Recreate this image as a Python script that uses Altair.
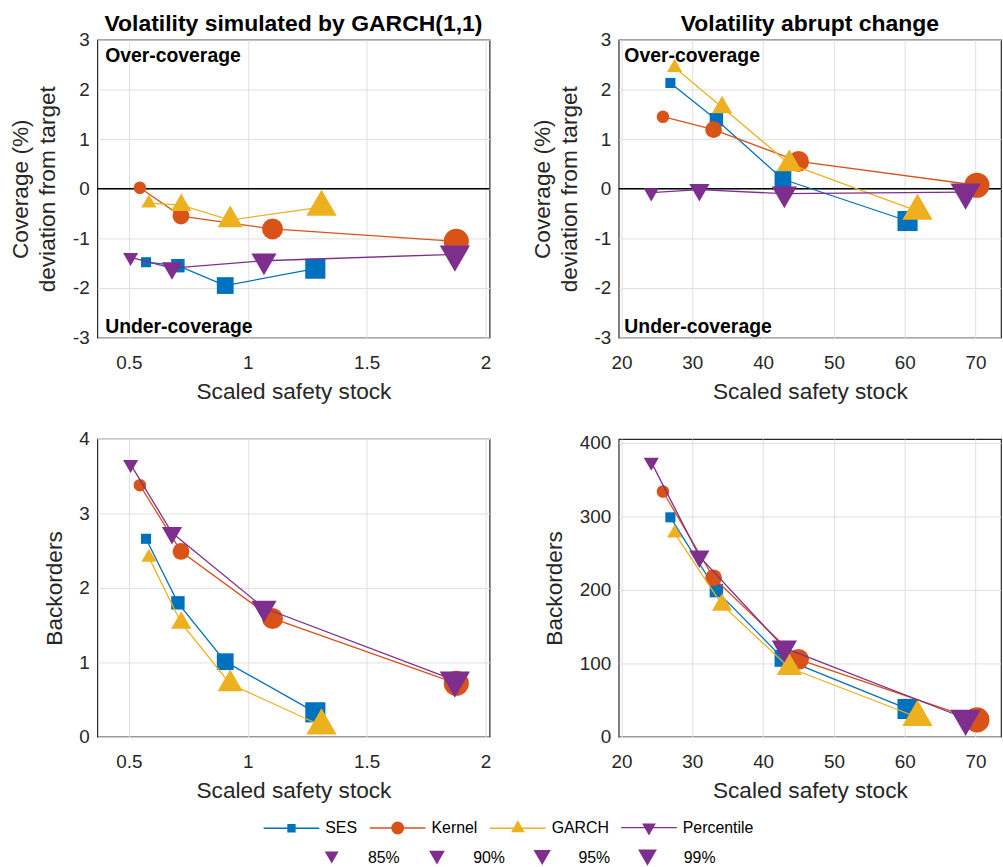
import altair as alt
import pandas as pd

METHODS = ["SES", "Kernel", "GARCH", "Percentile"]
LEVELS = ["85%", "90%", "95%", "99%"]

# ---- Volatility simulated by GARCH(1,1) ----
garch_stock_ses = [0.572, 0.706, 0.905, 1.284]
garch_stock_kernel = [0.546, 0.719, 1.104, 1.877]
garch_stock_garch = [0.584, 0.720, 0.926, 1.310]
garch_stock_pct = [0.507, 0.681, 1.068, 1.871]

garch_cov_ses = [-1.48, -1.55, -1.95, -1.61]
garch_cov_kernel = [0.02, -0.55, -0.81, -1.06]
garch_cov_garch = [-0.29, -0.33, -0.63, -0.37]
garch_cov_pct = [-1.38, -1.60, -1.45, -1.32]

garch_bo_ses = [2.66, 1.80, 1.01, 0.33]
garch_bo_kernel = [3.38, 2.49, 1.59, 0.72]
garch_bo_garch = [2.41, 1.53, 0.71, 0.15]
garch_bo_pct = [3.66, 2.74, 1.73, 0.76]

# ---- Volatility abrupt change ----
abrupt_stock_ses = [26.9, 33.4, 42.8, 60.4]
abrupt_stock_kernel = [25.85, 33.0, 45.0, 70.2]
abrupt_stock_garch = [27.5, 34.2, 43.7, 61.8]
abrupt_stock_pct = [24.2, 31.0, 43.0, 68.6]

abrupt_cov_ses = [2.13, 1.39, 0.19, -0.65]
abrupt_cov_kernel = [1.45, 1.19, 0.55, 0.07]
abrupt_cov_garch = [2.44, 1.64, 0.50, -0.45]
abrupt_cov_pct = [-0.08, -0.02, -0.10, -0.07]

abrupt_bo_ses = [298.5, 198.8, 106.7, 38.0]
abrupt_bo_kernel = [333.6, 216.3, 105.4, 23.2]
abrupt_bo_garch = [277.0, 179.5, 94.0, 26.7]
abrupt_bo_pct = [373.6, 245.5, 121.0, 25.0]

COLORS = {"SES": "#0072BD", "Kernel": "#D95319", "GARCH": "#EDB120", "Percentile": "#7E2F8E"}
# triangles centred on their centroid
TRI_UP = "M0,-1.1547L-1,0.5774L1,0.5774Z"
TRI_DOWN = "M0,1.1547L-1,-0.5774L1,-0.5774Z"
SHAPES = {"SES": "square", "Kernel": "circle", "GARCH": TRI_UP, "Percentile": TRI_DOWN}
MARKER_SCALE = {"SES": 1.69, "Kernel": 2.11, "GARCH": 2.54, "Percentile": 2.54}
MARKER_SIZE = [6, 8, 10, 12]
LEGEND_AREA = [196, 361, 515, 713]

# legend symbols: a short line with the marker in its middle (pixel units)
LEGEND_PATHS = [
    "M-28,0H28M-3.5,-3.5H3.5V3.5H-3.5Z",
    "M-28,0H28M5.8,0A5.8,5.8,0,1,1,-5.8,0A5.8,5.8,0,1,1,5.8,0Z",
    "M-28,0H28M0,-6.6L-5.7,3.3L5.7,3.3Z",
    "M-28,0H28M0,6.6L-5.7,-3.3L5.7,-3.3Z",
]

FONT = "Liberation Sans"


def series_frame(stock, values):
    rows = []
    for m, xs, ys in zip(METHODS, stock, values):
        for i, (xv, yv) in enumerate(zip(xs, ys)):
            rows.append({"method": m, "level": LEVELS[i], "rank": i,
                         "stock": xv, "value": yv})
    return pd.DataFrame(rows)


def panel(df, xdom, xticks, ydom, yticks, ytitle, width, height,
          title=None, notes=None, extra=()):
    x = alt.X("stock:Q", scale=alt.Scale(domain=xdom, nice=False, zero=False),
              axis=alt.Axis(values=xticks, title="Scaled safety stock",
                            labelExpr="toString(datum.value)"))
    y = alt.Y("value:Q", scale=alt.Scale(domain=ydom, nice=False, zero=False),
              axis=alt.Axis(values=yticks, title=ytitle,
                            labelExpr="toString(datum.value)"))
    layers = []
    if notes is not None:
        zero = pd.DataFrame({"value": [0.0]})
        layers.append(alt.Chart(zero).mark_rule(color="black", strokeWidth=1.5).encode(y=y))
    for m in METHODS:
        sub = alt.Chart(df).transform_filter(alt.datum.method == m)
        layers.append(sub.mark_line(color=COLORS[m], strokeWidth=1.3).encode(
            x=x, y=y, order=alt.Order("rank:Q")))
        # marker grows with the service level
        for i, lev in enumerate(LEVELS):
            area = (MARKER_SCALE[m] * MARKER_SIZE[i]) ** 2
            layers.append(sub.transform_filter(alt.datum.level == lev).mark_point(
                shape=SHAPES[m], filled=True, color=COLORS[m], opacity=1,
                strokeWidth=0, size=area).encode(x=x, y=y))
    if notes is not None:
        layers.append(alt.Chart(notes).mark_text(
            align="left", baseline="alphabetic", fontWeight="bold", fontSize=19.5,
            color="black", font=FONT).encode(x=x, y=y, text="label:N"))
    layers.extend(extra)
    chart = alt.layer(*layers).properties(width=width, height=height)
    if title is not None:
        chart = chart.properties(title=alt.TitleParams(title))
    return chart


garch_stock = [garch_stock_ses, garch_stock_kernel, garch_stock_garch, garch_stock_pct]
abrupt_stock = [abrupt_stock_ses, abrupt_stock_kernel, abrupt_stock_garch, abrupt_stock_pct]

df_tl = series_frame(garch_stock, [garch_cov_ses, garch_cov_kernel, garch_cov_garch, garch_cov_pct])
df_tr = series_frame(abrupt_stock, [abrupt_cov_ses, abrupt_cov_kernel, abrupt_cov_garch, abrupt_cov_pct])
df_bl = series_frame(garch_stock, [garch_bo_ses, garch_bo_kernel, garch_bo_garch, garch_bo_pct])
df_br = series_frame(abrupt_stock, [abrupt_bo_ses, abrupt_bo_kernel, abrupt_bo_garch, abrupt_bo_pct])

notes_left = pd.DataFrame({"stock": [0.4, 0.4], "value": [2.56, -2.91],
                           "label": ["Over-coverage", "Under-coverage"]})
notes_right = pd.DataFrame({"stock": [20.4, 20.4], "value": [2.56, -2.91],
                            "label": ["Over-coverage", "Under-coverage"]})

COV_TITLE = ["Coverage (%)", "deviation from target"]
LEFT_X = [0.367, 2.017]
RIGHT_X = [19.6, 73.6]

# legend carriers: no rows are drawn, only their scales feed the two legends
legend_frame = pd.DataFrame({"method": METHODS, "level": LEVELS})
method_legend = alt.Legend(title=None, orient="none", legendX=187.5, legendY=785,
                           direction="horizontal", columns=4, symbolSize=4,
                           symbolStrokeWidth=1.4, labelOffset=26, columnPadding=9,
                           labelFontSize=16, labelColor="black", labelFont=FONT, padding=0)
color_scale = alt.Scale(domain=METHODS, range=[COLORS[m] for m in METHODS])
method_layer = alt.Chart(legend_frame).transform_filter("false").mark_point(
    filled=True, opacity=1).encode(
    fill=alt.Fill("method:N", scale=color_scale, legend=method_legend),
    stroke=alt.Stroke("method:N", scale=color_scale, legend=method_legend),
    shape=alt.Shape("method:N", scale=alt.Scale(domain=METHODS, range=LEGEND_PATHS),
                    legend=method_legend),
)
level_layer = alt.Chart(legend_frame).transform_filter("false").mark_point(
    filled=True, opacity=1, shape="triangle-down", color=COLORS["Percentile"],
    strokeWidth=0).encode(
    size=alt.Size("level:O", scale=alt.Scale(domain=LEVELS, range=LEGEND_AREA),
                  legend=alt.Legend(title=None, orient="none", legendX=226.5, legendY=810,
                                    direction="horizontal", columns=4, clipHeight=27,
                                    symbolType="triangle-down",
                                    symbolFillColor=COLORS["Percentile"],
                                    symbolStrokeWidth=0, labelOffset=27,
                                    columnPadding=27, labelFontSize=16,
                                    labelColor="black", labelFont=FONT, padding=0)),
)

tl = panel(df_tl, LEFT_X, [0.5, 1, 1.5, 2], [-3, 3], [-3, -2, -1, 0, 1, 2, 3], COV_TITLE,
           395, 300, title="Volatility simulated by GARCH(1,1)", notes=notes_left)
tr = panel(df_tr, RIGHT_X, [20, 30, 40, 50, 60, 70], [-3, 3], [-3, -2, -1, 0, 1, 2, 3], COV_TITLE,
           385, 300, title="Volatility abrupt change", notes=notes_right)
bl = panel(df_bl, LEFT_X, [0.5, 1, 1.5, 2], [0, 4], [0, 1, 2, 3, 4], "Backorders", 395, 300)
br = panel(df_br, RIGHT_X, [20, 30, 40, 50, 60, 70], [0, 405], [0, 100, 200, 300, 400],
           "Backorders", 385, 300, extra=(method_layer, level_layer))

chart = alt.concat(tl, tr, bl, br, columns=2, spacing={"row": 25, "column": 39}).properties(
    padding={"left": 9, "top": 9, "right": 0, "bottom": 0}
).configure(font=FONT).configure_axis(
    labelFont=FONT, labelFontSize=19, labelColor="#262626",
    titleFont=FONT, titleFontSize=22.8, titleFontWeight="normal", titleColor="#262626",
    titleLineHeight=27,
    gridColor="#dfdfdf", gridWidth=1, ticks=False, domain=False,
    labelPadding=8, titlePadding=13, labelFlush=False,
).configure_axisX(labelPadding=16, titlePadding=8).configure_view(
    stroke="#262626", strokeWidth=1.2
).configure_title(
    font=FONT, fontSize=23.1, fontWeight="bold", color="black", anchor="middle", offset=-5
)

chart.save("out.html", embed_options={"renderer": "svg", "actions": False})
